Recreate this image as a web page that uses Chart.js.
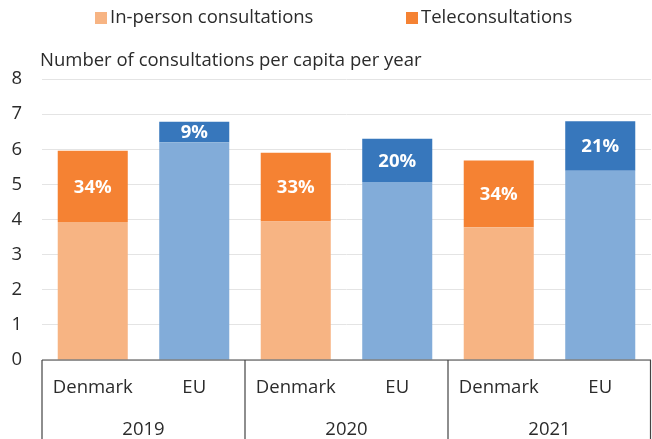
<!DOCTYPE html>
<html>
<head>
<meta charset="utf-8">
<script src="https://cdn.jsdelivr.net/npm/chart.js@4"></script>
<style>
  html, body { margin: 0; padding: 0; background: #fff; }
  #wrap { width: 652px; height: 439px; }
</style>
</head>
<body>
<div id="wrap"><canvas id="chart"></canvas></div>
<script>
// data
const countries = ['Denmark', 'EU', 'Denmark', 'EU', 'Denmark', 'EU'];
const years = ['2019', '2020', '2021'];
const inPerson = [3.93, 6.2, 3.94, 5.07, 3.78, 5.39];
const tele = [2.03, 0.58, 1.96, 1.23, 1.9, 1.41];
const teleShare = ['34%', '9%', '33%', '20%', '34%', '21%'];
const seriesNames = ['In-person consultations', 'Teleconsultations'];
const yTitle = 'Number of consultations per capita per year';

const lightColors = ['#F7B483', '#82ACD9'];
const darkColors = ['#F58233', '#3777BC'];
const FONT = '"Open Sans", "Noto Sans", sans-serif';
const SIZE = 18.5;

// legend, title, percentage labels and the boxed x axis
const extras = {
  id: 'extras',
  afterDraw(chart) {
    const ctx = chart.ctx;
    const area = chart.chartArea;
    ctx.save();

    // legend
    ctx.font = SIZE + 'px ' + FONT;
    ctx.textBaseline = 'middle';
    ctx.textAlign = 'left';
    const legendX = [95, 406];
    seriesNames.forEach((name, i) => {
      ctx.fillStyle = i === 0 ? lightColors[0] : darkColors[0];
      ctx.fillRect(legendX[i], 12, 12, 12);
      ctx.fillStyle = '#2b2b2b';
      ctx.fillText(name, legendX[i] + 15, 18);
    });

    // axis title
    ctx.fillText(yTitle, 40, 61);

    // share of teleconsultations
    const meta = chart.getDatasetMeta(1);
    ctx.font = 'bold ' + SIZE + 'px ' + FONT;
    ctx.fillStyle = '#fff';
    ctx.textAlign = 'center';
    meta.data.forEach((bar, i) => {
      ctx.fillText(teleShare[i], bar.x, (bar.y + bar.base) / 2 + 1);
    });

    // boxed category axis
    const x = chart.scales.x;
    const bottom = chart.height;
    ctx.strokeStyle = '#444';
    ctx.lineWidth = 1.2;
    ctx.beginPath();
    ctx.moveTo(area.left, area.bottom);
    ctx.lineTo(area.right, area.bottom);
    const edges = [area.left];
    for (let g = 1; g < years.length; g++) {
      edges.push((x.getPixelForValue(g * 2 - 1) + x.getPixelForValue(g * 2)) / 2);
    }
    edges.push(area.right - 0.5);
    edges.forEach(px => {
      ctx.moveTo(px, area.bottom);
      ctx.lineTo(px, bottom);
    });
    ctx.stroke();
    ctx.restore();
  }
};

new Chart(document.getElementById('chart'), {
  type: 'bar',
  data: {
    labels: countries,
    datasets: [
      {
        label: seriesNames[0],
        data: inPerson,
        backgroundColor: countries.map(c => c === 'EU' ? lightColors[1] : lightColors[0])
      },
      {
        label: seriesNames[1],
        data: tele,
        backgroundColor: countries.map(c => c === 'EU' ? darkColors[1] : darkColors[0])
      }
    ]
  },
  options: {
    responsive: true,
    maintainAspectRatio: false,
    animation: false,
    layout: { padding: { top: 79, left: 0, right: 1, bottom: 0 } },
    datasets: { bar: { categoryPercentage: 1, barPercentage: 0.69 } },
    plugins: {
      legend: { display: false },
      tooltip: { enabled: false }
    },
    scales: {
      x: {
        stacked: true,
        grid: { display: false, drawTicks: false },
        border: { display: false },
        ticks: { font: { family: FONT, size: SIZE }, color: '#2b2b2b', padding: 17, maxRotation: 0, autoSkip: false },
        afterFit: s => { s.height = 38; }
      },
      x2: {
        type: 'category',
        labels: years,
        position: 'bottom',
        offset: true,
        grid: { display: false, drawTicks: false },
        border: { display: false },
        ticks: { font: { family: FONT, size: SIZE }, color: '#2b2b2b', padding: 21, maxRotation: 0 },
        afterFit: s => { s.height = 41; }
      },
      y: {
        stacked: true,
        min: 0,
        max: 8,
        ticks: { stepSize: 1, font: { family: FONT, size: SIZE }, color: '#2b2b2b', padding: 20 },
        grid: { color: '#e4e4e4', drawTicks: false },
        border: { display: false },
        afterFit: s => { s.width = 42; }
      }
    }
  },
  plugins: [extras]
});
</script>
</body>
</html>
